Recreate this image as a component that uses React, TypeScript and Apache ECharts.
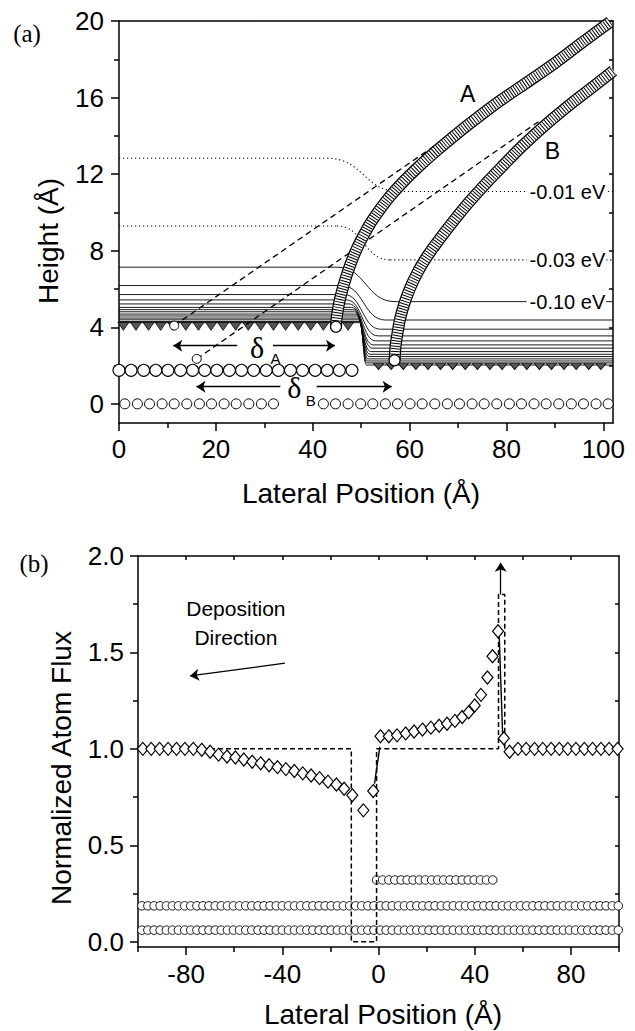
import React, { useEffect, useRef } from "react";
import * as echarts from "echarts";

const SANS = '"Liberation Sans", Arial, Helvetica, sans-serif';
const SERIF = '"Liberation Serif", "Times New Roman", "DejaVu Serif", serif';
const BLACK = "#000";

// ---------------- panel (a) ----------------
const aXRange = [0, 102];
const aYRange = [-1, 20];
const aXMajor = [0, 20, 40, 60, 80, 100];
const aXMinor = [10, 30, 50, 70, 90];
const aYMajor = [0, 4, 8, 12, 16, 20];
const aYMinor = [2, 6, 10, 14, 18];
const aYRightTicks = [0, 2, 4, 6, 8, 10, 12, 14, 16, 18, 20];

const substrateX = [1.2, 3.8, 6.3, 8.9, 11.4, 14.0, 16.6, 19.1, 21.7, 24.2, 26.8, 29.4, 31.9,
  42.2, 44.7, 47.3, 49.9, 52.4, 55.0, 57.5, 60.1, 62.6, 65.2, 67.8, 70.3, 72.9, 75.4, 78.0,
  80.6, 83.1, 85.7, 88.2, 90.8, 93.4, 95.9, 98.5, 101.0];
const substrateY = 0;
const secondLayerX = [0, 2.5, 5.1, 7.6, 10.1, 12.7, 15.2, 17.7, 20.2, 22.8, 25.3, 27.8, 30.4,
  32.9, 35.4, 37.9, 40.5, 43.0, 45.5, 48.1];
const secondLayerY = 1.75;
const upperSurfaceX = [0.9, 3.5, 6.1, 8.6, 11.2, 13.8, 16.4, 19.0, 21.5, 24.1, 26.7, 29.3, 31.9,
  34.4, 37.0, 39.6, 42.2, 44.8, 47.3];
const upperSurfaceY = 4.05;
const lowerSurfaceX = [53.6, 56.2, 58.7, 61.3, 63.8, 66.4, 68.9, 71.5, 74.0, 76.6, 79.1, 81.7,
  84.2, 86.8, 89.3, 91.9, 94.4, 97.0, 99.5];
const lowerSurfaceY = 1.95;

// equipotential contours: left level, right level, start / end of the bend
const contourLeft = [7.14, 6.18, 5.71, 5.43, 5.22, 5.04, 4.92, 4.81, 4.69, 4.59, 4.48, 4.39, 4.30, 4.24];
const contourRight = [5.34, 4.38, 3.90, 3.55, 3.29, 3.08, 2.91, 2.73, 2.59, 2.47, 2.35, 2.24, 2.14, 2.03];
const contourBendStart = [45, 46, 46.5, 47, 47.5, 48, 48.3, 48.6, 48.9, 49.1, 49.3, 49.5, 49.6, 49.7];
const contourBendEnd = [57, 55, 54, 53.5, 53, 52.5, 52.3, 52, 51.8, 51.6, 51.4, 51.3, 51.2, 51.1];
const dottedLeft = [12.83, 9.29];
const dottedRight = [11.09, 7.52];
const dottedBendStart = [43, 45];
const dottedBendEnd = [58, 56];

const trajectoryA = [[44.8, 4.03], [45.0, 4.6], [45.4, 5.2], [46.0, 5.85], [46.8, 6.55], [47.8, 7.3],
  [49.1, 8.1], [50.6, 8.85], [52.2, 9.55], [54.0, 10.2], [56.0, 10.85], [58.5, 11.55], [61.5, 12.3],
  [65.0, 13.1], [69.0, 13.95], [73.5, 14.85], [78.5, 15.8], [84.0, 16.75], [90.0, 17.8],
  [95.5, 18.85], [101.4, 19.95]];
const trajectoryB = [[56.9, 2.28], [57.1, 3.0], [57.5, 3.7], [58.1, 4.5], [59.0, 5.3], [60.1, 6.05],
  [61.5, 6.8], [63.1, 7.5], [65.0, 8.2], [67.2, 8.95], [69.7, 9.75], [72.5, 10.6], [75.7, 11.5],
  [79.3, 12.45], [83.2, 13.45], [87.5, 14.45], [92.2, 15.45], [97.0, 16.4], [102.1, 17.4]];
const leadA = [[11.4, 4.09], [71.1, 14.52]];
const leadB = [[16.05, 2.35], [86.6, 14.74]];

// ---------------- panel (b) ----------------
const bXMajor = [-80, -40, 0, 40, 80];
const bXMinor = [-100, -60, -20, 20, 60, 100];
const bXTop = [-80, -60, -40, -20, 0, 20, 40, 60, 80];
const bYMajor = [0, 0.5, 1.0, 1.5, 2.0];
const bYMinor = [0.25, 0.75, 1.25, 1.75];
const bYRight = [0.25, 0.5, 0.75, 1.0, 1.25, 1.5, 1.75];

const fluxX = [-98, -94.5, -91, -87.5, -84, -80.5, -77, -73.5, -70, -66.5, -63, -59.5, -56, -52.5,
  -49, -45.5, -42, -38.5, -35, -31.5, -28, -24.5, -21, -17.5, -14.3, -10.9, -6.3, -2.2,
  0.8, 4.3, 7.7, 11.3, 14.8, 18.3, 21.8, 25.2, 28.5, 31.8, 34.8, 37.5, 40.0, 42.6, 45.3, 47.4,
  49.7, 52.1, 54.5, 58.0, 61.4, 64.9, 68.3, 71.8, 75.2, 78.7, 82.1, 85.6, 89.0, 92.5, 95.9, 99.4];
const fluxY = [1.0, 1.0, 1.0, 1.0, 1.0, 1.0, 1.0, 0.995, 0.985, 0.97, 0.96, 0.955, 0.945, 0.933,
  0.925, 0.915, 0.905, 0.895, 0.885, 0.873, 0.862, 0.848, 0.83, 0.815, 0.793, 0.759, 0.681, 0.781,
  1.065, 1.065, 1.07, 1.08, 1.09, 1.10, 1.11, 1.12, 1.13, 1.145, 1.165, 1.19, 1.225, 1.28, 1.37, 1.48,
  1.61, 1.055, 0.985, 1.0, 1.0, 1.0, 1.0, 1.0, 1.0, 1.0, 1.0, 1.0, 1.0, 1.0, 1.0, 1.0];
const idealFlux = [[-100, 1.0], [-11.3, 1.0], [-11.3, 0.0], [-0.8, 0.0], [-0.8, 1.0], [49.9, 1.0],
  [49.9, 1.8], [52.5, 1.8], [52.5, 1.0], [100, 1.0]];
const fluxSolidStep = [[-1.65, 0.82], [0.55, 1.01]];
const fluxSolidPeak = [[50.2, 1.58], [51.6, 1.08]];
const spikeArrow = [[50.8, 1.80], [50.8, 1.965]];
const depositionArrow = [[-38.9, 1.444], [-78.4, 1.378]];

const layerRowX = [-98.4, -95.9, -93.3, -90.8, -88.2, -85.7, -83.2, -80.6, -78.1, -75.5, -73.0,
  -70.5, -67.9, -65.4, -62.8, -60.3, -57.8, -55.2, -52.7, -50.1, -47.6, -45.1, -42.5, -40.0, -37.4,
  -34.9, -32.4, -29.8, -27.3, -24.7, -22.2, -19.7, -17.1, -14.6, -12.0, -9.5, -7.0, -4.4, -1.9,
  0.7, 3.2, 5.7, 8.3, 10.8, 13.4, 15.9, 18.4, 21.0, 23.5, 26.1, 28.6, 31.1, 33.7, 36.2, 38.8, 41.3,
  43.8, 46.4, 48.9, 51.5, 54.0, 56.5, 59.1, 61.6, 64.2, 66.7, 69.2, 71.8, 74.3, 76.9, 79.4, 81.9,
  84.5, 87.0, 89.6, 92.1, 94.6, 97.2, 99.7];
const layer1Y = 0.06;
const layer2Y = 0.186;
const islandRowX = [-0.8, 1.7, 4.3, 6.8, 9.4, 11.9, 14.4, 17.0, 19.5, 22.1, 24.6, 27.1, 29.7,
  32.2, 34.8, 37.3, 39.8, 42.4, 44.9, 47.5];
const islandY = 0.32;

// ---------------- helpers ----------------
const axisLine = { color: BLACK, width: 1.5 };
const tickFont = { fontSize: 26, fontFamily: SANS, color: BLACK };

function mkAxis(extra: any) {
  return { type: "value", splitLine: { show: false }, axisPointer: { show: false }, ...extra };
}

function contourRenderer(dash: number[] | null, width: number) {
  return (params: any, api: any) => {
    const L = api.value(0), R = api.value(1), xa = api.value(2), xb = api.value(3);
    const p0 = api.coord([aXRange[0], L]);
    const p1 = api.coord([xa, L]);
    const p2 = api.coord([xb, R]);
    const p3 = api.coord([aXRange[1], R]);
    const xm = (p1[0] + p2[0]) / 2;
    const style: any = { stroke: BLACK, lineWidth: width, fill: "none" };
    if (dash) style.lineDash = dash;
    return {
      type: "group",
      children: [
        { type: "polyline", shape: { points: [p0, p1] }, style },
        { type: "bezierCurve", shape: { x1: p1[0], y1: p1[1], cpx1: xm, cpy1: p1[1], cpx2: xm, cpy2: p2[1], x2: p2[0], y2: p2[1] }, style },
        { type: "polyline", shape: { points: [p2, p3] }, style },
      ],
    };
  };
}

function bandSeries(data: number[][]) {
  const base = { type: "line", xAxisIndex: 0, yAxisIndex: 0, data, smooth: 0.35, symbol: "none", silent: true, clip: false };
  return [
    { ...base, z: 6, lineStyle: { color: BLACK, width: 12 } },
    { ...base, z: 7, lineStyle: { color: "#fff", width: 9.5 } },
    { ...base, z: 8, lineStyle: { color: BLACK, width: 9.5, type: [1, 1.7] } },
  ];
}

function rowData(xs: number[], y: number) {
  return xs.map((x) => [x, y]);
}

const arrowMark = (pairs: number[][][]) => ({
  silent: true,
  symbol: ["none", "arrow"],
  symbolSize: 9,
  label: { show: false },
  lineStyle: { color: BLACK, width: 1.3, type: "solid" },
  emphasis: { disabled: true },
  data: pairs.map((p) => [{ coord: p[0] }, { coord: p[1] }]),
});

function txt(value: number[], text: string, extra: any = {}) {
  return {
    value,
    label: { show: true, formatter: text, position: "inside", color: BLACK, fontFamily: SANS, fontSize: 23, ...extra },
  };
}

const openStyle = (bw: number) => ({ color: "#fff", borderColor: BLACK, borderWidth: bw, opacity: 1 });

function buildOption() {
  return {
    animation: false,
    backgroundColor: "#fff",
    grid: [
      { left: 119, top: 21, width: 494, height: 402 },
      { left: 138, top: 556, width: 481, height: 391 },
    ],
    xAxis: [
      mkAxis({ gridIndex: 0, position: "bottom", min: aXRange[0], max: aXRange[1],
        axisLine: { show: true, onZero: false, lineStyle: axisLine },
        axisTick: { show: true, length: 8, customValues: aXMajor, lineStyle: axisLine },
        axisLabel: { show: true, customValues: aXMajor, margin: 13, ...tickFont } }),
      mkAxis({ gridIndex: 0, position: "bottom", min: aXRange[0], max: aXRange[1],
        axisLine: { show: false, onZero: false },
        axisTick: { show: true, length: 5, customValues: aXMinor, lineStyle: axisLine },
        axisLabel: { show: false } }),
      mkAxis({ gridIndex: 0, position: "top", min: aXRange[0], max: aXRange[1],
        axisLine: { show: true, onZero: false, lineStyle: axisLine },
        axisTick: { show: false }, axisLabel: { show: false } }),
      mkAxis({ gridIndex: 1, position: "bottom", min: -100, max: 100,
        axisLine: { show: true, onZero: false, lineStyle: axisLine },
        axisTick: { show: true, length: 8, customValues: bXMajor, lineStyle: axisLine },
        axisLabel: { show: true, customValues: bXMajor, margin: 14, ...tickFont } }),
      mkAxis({ gridIndex: 1, position: "bottom", min: -100, max: 100,
        axisLine: { show: false, onZero: false },
        axisTick: { show: true, length: 5, customValues: bXMinor, lineStyle: axisLine },
        axisLabel: { show: false } }),
      mkAxis({ gridIndex: 1, position: "top", min: -100, max: 100,
        axisLine: { show: true, onZero: false, lineStyle: axisLine },
        axisTick: { show: true, inside: true, length: 4, customValues: bXTop, lineStyle: axisLine },
        axisLabel: { show: false } }),
    ],
    yAxis: [
      mkAxis({ gridIndex: 0, position: "left", min: aYRange[0], max: aYRange[1],
        axisLine: { show: true, onZero: false, lineStyle: axisLine },
        axisTick: { show: true, length: 8, customValues: aYMajor, lineStyle: axisLine },
        axisLabel: { show: true, customValues: aYMajor, margin: 15, ...tickFont } }),
      mkAxis({ gridIndex: 0, position: "left", min: aYRange[0], max: aYRange[1],
        axisLine: { show: false, onZero: false },
        axisTick: { show: true, length: 5, customValues: aYMinor, lineStyle: axisLine },
        axisLabel: { show: false } }),
      mkAxis({ gridIndex: 0, position: "right", min: aYRange[0], max: aYRange[1],
        axisLine: { show: true, onZero: false, lineStyle: axisLine },
        axisTick: { show: true, inside: true, length: 4, customValues: aYRightTicks, lineStyle: axisLine },
        axisLabel: { show: false } }),
      mkAxis({ gridIndex: 1, position: "left", min: -0.0275, max: 2.0,
        axisLine: { show: true, onZero: false, lineStyle: axisLine },
        axisTick: { show: true, length: 8, customValues: bYMajor, lineStyle: axisLine },
        axisLabel: { show: true, customValues: bYMajor, margin: 14, formatter: (v: number) => v.toFixed(1), ...tickFont } }),
      mkAxis({ gridIndex: 1, position: "left", min: -0.0275, max: 2.0,
        axisLine: { show: false, onZero: false },
        axisTick: { show: true, length: 5, customValues: bYMinor, lineStyle: axisLine },
        axisLabel: { show: false } }),
      mkAxis({ gridIndex: 1, position: "right", min: -0.0275, max: 2.0,
        axisLine: { show: true, onZero: false, lineStyle: axisLine },
        axisTick: { show: true, inside: true, length: 4, customValues: bYRight, lineStyle: axisLine },
        axisLabel: { show: false } }),
    ],
    graphic: {
      elements: [
        { type: "text", x: 27, y: 33, style: { text: "(a)", fontSize: 25, fontFamily: SERIF, fill: BLACK, align: "center", verticalAlign: "middle" } },
        { type: "text", x: 34, y: 563, style: { text: "(b)", fontSize: 25, fontFamily: SERIF, fill: BLACK, align: "center", verticalAlign: "middle" } },
        { type: "text", x: 48, y: 241, rotation: Math.PI / 2, style: { text: "Height (Å)", fontSize: 28, fontFamily: SANS, fill: BLACK, align: "center", verticalAlign: "middle" } },
        { type: "text", x: 361, y: 493, style: { text: "Lateral Position (Å)", fontSize: 28, fontFamily: SANS, fill: BLACK, align: "center", verticalAlign: "middle" } },
        { type: "text", x: 61, y: 768, rotation: Math.PI / 2, style: { text: "Normalized Atom Flux", fontSize: 28, fontFamily: SANS, fill: BLACK, align: "center", verticalAlign: "middle" } },
        { type: "text", x: 383, y: 1014, style: { text: "Lateral Position (Å)", fontSize: 28, fontFamily: SANS, fill: BLACK, align: "center", verticalAlign: "middle" } },
      ],
    },
    series: [
      // ---- panel (a)
      { type: "custom", xAxisIndex: 0, yAxisIndex: 0, silent: true, z: 2,
        data: contourLeft.map((L, i) => [L, contourRight[i], contourBendStart[i], contourBendEnd[i]]),
        renderItem: contourRenderer(null, 0.9) },
      { type: "custom", xAxisIndex: 0, yAxisIndex: 0, silent: true, z: 2,
        data: dottedLeft.map((L, i) => [L, dottedRight[i], dottedBendStart[i], dottedBendEnd[i]]),
        renderItem: contourRenderer([1.2, 2.8], 1.1) },
      { type: "scatter", xAxisIndex: 0, yAxisIndex: 0, silent: true, z: 3, symbol: "triangle", symbolRotate: 180,
        symbolSize: [11, 8], itemStyle: { color: "#555", borderColor: BLACK, borderWidth: 0.8, opacity: 1 },
        data: rowData(upperSurfaceX, upperSurfaceY) },
      { type: "scatter", xAxisIndex: 0, yAxisIndex: 0, silent: true, z: 3, symbol: "triangle", symbolRotate: 180,
        symbolSize: [10, 6], itemStyle: { color: "#555", borderColor: BLACK, borderWidth: 0.8, opacity: 1 },
        data: rowData(lowerSurfaceX, lowerSurfaceY) },
      { type: "scatter", xAxisIndex: 0, yAxisIndex: 0, silent: true, z: 3, symbol: "circle", symbolSize: 10,
        itemStyle: openStyle(1), data: rowData(substrateX, substrateY) },
      { type: "scatter", xAxisIndex: 0, yAxisIndex: 0, silent: true, z: 3, symbol: "circle", symbolSize: 12,
        itemStyle: openStyle(1.1), data: rowData(secondLayerX, secondLayerY) },
      { type: "line", xAxisIndex: 0, yAxisIndex: 0, silent: true, z: 4, symbol: "none", data: leadA,
        lineStyle: { color: BLACK, width: 1.3, type: [6, 4] },
        markLine: arrowMark([
          [[24.4, 3.04], [11.2, 3.04]], [[31.8, 3.04], [44.6, 3.04]],
          [[33.3, 0.9], [16.0, 0.9]], [[40.8, 0.9], [56.3, 0.9]],
        ]) },
      { type: "line", xAxisIndex: 0, yAxisIndex: 0, silent: true, z: 4, symbol: "none", data: leadB,
        lineStyle: { color: BLACK, width: 1.3, type: [6, 4] } },
      { type: "scatter", xAxisIndex: 0, yAxisIndex: 0, silent: true, z: 5, symbol: "circle", symbolSize: 9,
        itemStyle: openStyle(1), data: [leadA[0], leadB[0]] },
      ...bandSeries(trajectoryA),
      ...bandSeries(trajectoryB),
      { type: "scatter", xAxisIndex: 0, yAxisIndex: 0, silent: true, z: 9, symbol: "circle", symbolSize: 11,
        itemStyle: openStyle(1.2), data: [trajectoryA[0], trajectoryB[0]] },
      { type: "scatter", xAxisIndex: 0, yAxisIndex: 0, silent: true, z: 10, symbolSize: 0,
        itemStyle: { color: "rgba(0,0,0,0)", opacity: 1 },
        data: [
          txt([72, 16.2], "A"),
          txt([89.5, 13.2], "B"),
          txt([100.6, 11.09], "-0.01 eV", { position: "left", distance: 0, fontSize: 20, backgroundColor: "#fff", padding: [1, 1, 1, 3] }),
          txt([100.6, 7.52], "-0.03 eV", { position: "left", distance: 0, fontSize: 20, backgroundColor: "#fff", padding: [1, 1, 1, 3] }),
          txt([100.6, 5.34], "-0.10 eV", { position: "left", distance: 0, fontSize: 20, backgroundColor: "#fff", padding: [1, 1, 1, 3] }),
          txt([28.5, 2.97], "δ", { fontSize: 30, fontFamily: SERIF }),
          txt([32.3, 2.37], "A", { fontSize: 15 }),
          txt([36.2, 0.83], "δ", { fontSize: 30, fontFamily: SERIF }),
          txt([39.6, 0.18], "B", { fontSize: 15 }),
        ] },
      // ---- panel (b)
      { type: "scatter", xAxisIndex: 3, yAxisIndex: 3, silent: true, z: 2, symbol: "circle", symbolSize: 8.5,
        itemStyle: openStyle(0.9), data: rowData(layerRowX, layer1Y) },
      { type: "scatter", xAxisIndex: 3, yAxisIndex: 3, silent: true, z: 2, symbol: "circle", symbolSize: 8.5,
        itemStyle: openStyle(0.9), data: rowData(layerRowX, layer2Y) },
      { type: "scatter", xAxisIndex: 3, yAxisIndex: 3, silent: true, z: 2, symbol: "circle", symbolSize: 8.5,
        itemStyle: openStyle(0.9), data: rowData(islandRowX, islandY) },
      { type: "line", xAxisIndex: 3, yAxisIndex: 3, silent: true, z: 3, symbol: "none", data: idealFlux,
        lineStyle: { color: BLACK, width: 1.5, type: [5, 3] },
        markLine: arrowMark([spikeArrow, depositionArrow]) },
      { type: "scatter", xAxisIndex: 3, yAxisIndex: 3, silent: true, z: 4, symbol: "diamond", symbolSize: [11, 13],
        itemStyle: openStyle(1.2), data: fluxX.map((x, i) => [x, fluxY[i]]) },
      { type: "line", xAxisIndex: 3, yAxisIndex: 3, silent: true, z: 5, symbol: "none", data: fluxSolidStep,
        lineStyle: { color: BLACK, width: 1.4 } },
      { type: "line", xAxisIndex: 3, yAxisIndex: 3, silent: true, z: 5, symbol: "none", data: fluxSolidPeak,
        lineStyle: { color: BLACK, width: 1.4 } },
      { type: "scatter", xAxisIndex: 3, yAxisIndex: 3, silent: true, z: 10, symbolSize: 0,
        itemStyle: { color: "rgba(0,0,0,0)", opacity: 1 },
        data: [txt([-59.3, 1.655], "Deposition\nDirection", { fontSize: 21, lineHeight: 29 })] },
    ],
  };
}

export default function App() {
  const ref = useRef<HTMLDivElement>(null);
  useEffect(() => {
    const chart = echarts.init(ref.current as HTMLDivElement, null, { renderer: "svg" });
    chart.setOption(buildOption() as any);
    return () => chart.dispose();
  }, []);
  return (
    <div
      ref={ref}
      style={{ position: "absolute", left: 0, top: 0, width: 635, height: 1031, background: "#fff" }}
    />
  );
}
